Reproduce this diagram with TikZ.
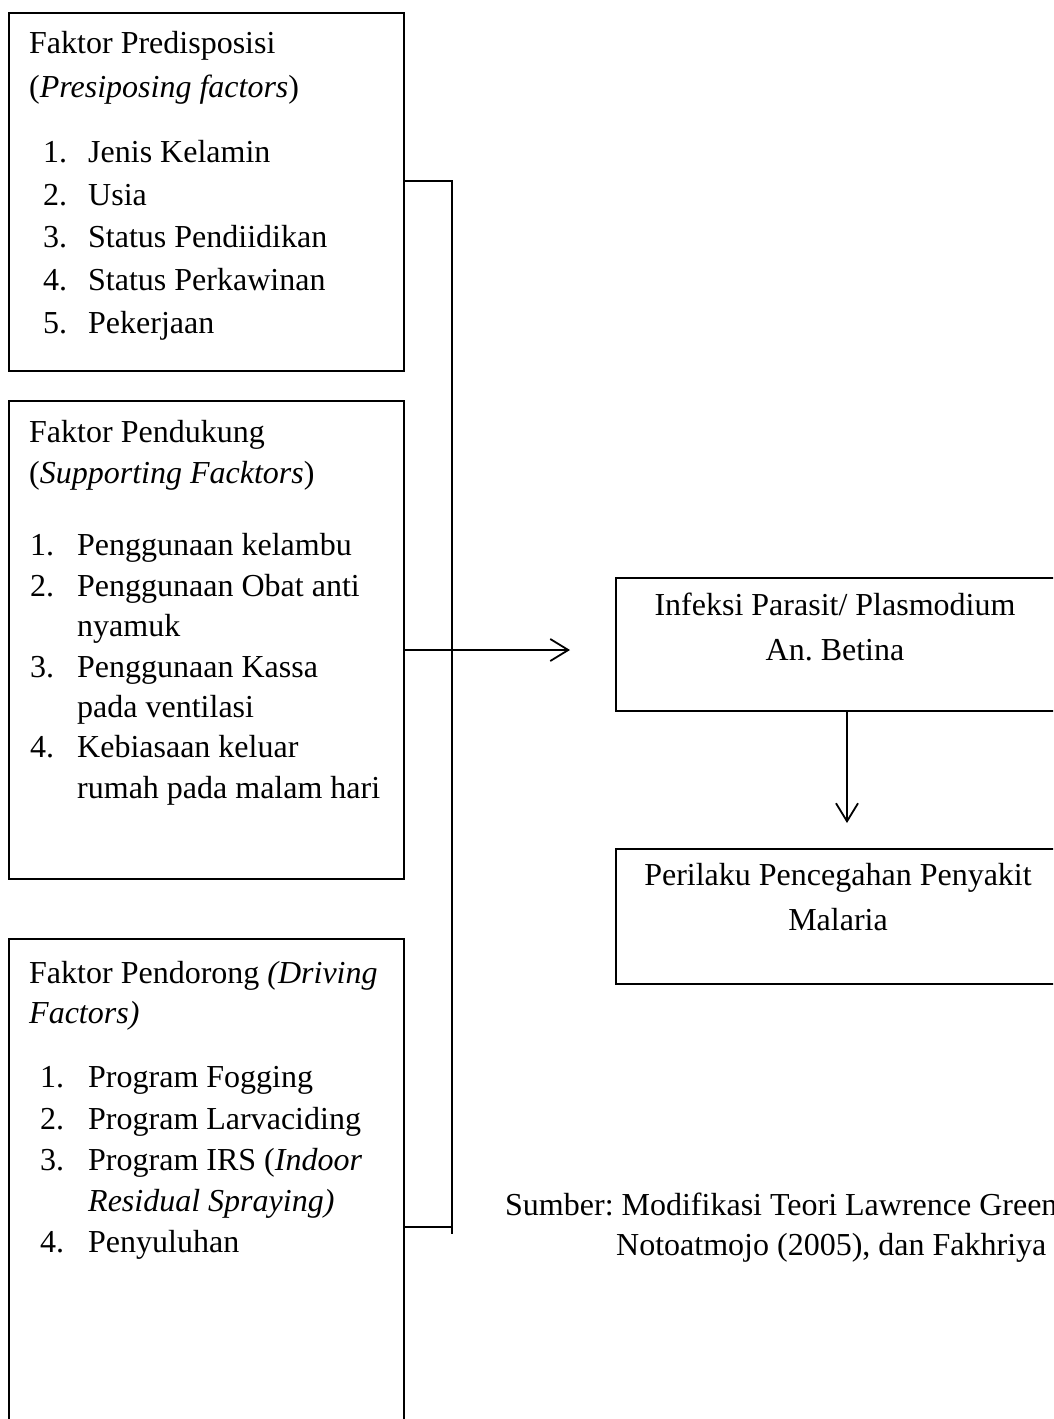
\documentclass[tikz,border=0pt]{standalone}
\usepackage{fontspec}
\setmainfont{Liberation Serif}
\usetikzlibrary{arrows.meta}
\frenchspacing

\begin{document}
\begin{tikzpicture}[x=1pt,y=-1pt,
  kotak/.style={draw, line width=1.6pt, minimum width=395pt, inner sep=0pt, anchor=north west},
  teks/.style={anchor=base west, inner sep=0pt, font=\fontsize{32}{40}\selectfont},
  tengah/.style={anchor=base, inner sep=0pt, font=\fontsize{32}{40}\selectfont},
  garis/.style={line width=1.8pt},
  panah/.style={line width=1.8pt, -{Straight Barb[length=18pt, width=22pt]}}]
\useasboundingbox (0,0) rectangle (1053,1419);
\clip (0,0) rectangle (1053,1419);

%Shape: Rectangle
\node [kotak, minimum height=358pt] (predis) at (8,12) {};
%Shape: Rectangle
\node [kotak, minimum height=478pt] (dukung) at (8,400) {};
%Shape: Rectangle
\node [kotak, minimum height=520pt] (dorong) at (8,938) {};
%Shape: Rectangle
\node [kotak, minimum width=460pt, minimum height=133pt] (infeksi) at (615,577) {};
%Shape: Rectangle
\node [kotak, minimum width=460pt, minimum height=135pt] (perilaku) at (615,848) {};

% Text Node
\node [teks] (pred-a) at (29,53) {Faktor Predisposisi};
\node [teks] (pred-b) at (29,97) {(\textit{Presiposing factors})};
\node [teks] (pred-n1) at (43,162) {1.};
\node [teks] (pred-t1) at (88,162) {Jenis Kelamin};
\node [teks] (pred-n2) at (43,205) {2.};
\node [teks] (pred-t2) at (88,205) {Usia};
\node [teks] (pred-n3) at (43,247) {3.};
\node [teks] (pred-t3) at (88,247) {Status Pendiidikan};
\node [teks] (pred-n4) at (43,290) {4.};
\node [teks] (pred-t4) at (88,290) {Status Perkawinan};
\node [teks] (pred-n5) at (43,333) {5.};
\node [teks] (pred-t5) at (88,333) {Pekerjaan};

% Text Node
\node [teks] (duk-a) at (29,442) {Faktor Pendukung};
\node [teks] (duk-b) at (29,483) {(\textit{Supporting Facktors})};
\node [teks] (duk-n1) at (30,555) {1.};
\node [teks] (duk-t1) at (77,555) {Penggunaan kelambu};
\node [teks] (duk-n2) at (30,596) {2.};
\node [teks] (duk-t2) at (77,596) {Penggunaan Obat anti};
\node [teks] (duk-t2b) at (77,636) {nyamuk};
\node [teks] (duk-n3) at (30,677) {3.};
\node [teks] (duk-t3) at (77,677) {Penggunaan Kassa};
\node [teks] (duk-t3b) at (77,717) {pada ventilasi};
\node [teks] (duk-n4) at (30,757) {4.};
\node [teks] (duk-t4) at (77,757) {Kebiasaan keluar};
\node [teks] (duk-t4b) at (77,798) {rumah pada malam hari};

% Text Node
\node [teks] (dor-a) at (29,983) {Faktor Pendorong \textit{(Driving}};
\node [teks] (dor-b) at (29,1023) {\textit{Factors)}};
\node [teks] (dor-n1) at (40,1087) {1.};
\node [teks] (dor-t1) at (88,1087) {Program Fogging};
\node [teks] (dor-n2) at (40,1129) {2.};
\node [teks] (dor-t2) at (88,1129) {Program Larvaciding};
\node [teks] (dor-n3) at (40,1170) {3.};
\node [teks] (dor-t3) at (88,1170) {Program IRS (\textit{Indoor}};
\node [teks] (dor-t3b) at (88,1211) {\textit{Residual Spraying)}};
\node [teks] (dor-n4) at (40,1252) {4.};
\node [teks] (dor-t4) at (88,1252) {Penyuluhan};

% Text Node
\node [tengah] (inf-a) at (835,615) {Infeksi Parasit/ Plasmodium};
\node [tengah] (inf-b) at (835,660) {An. Betina};
\node [tengah] (per-a) at (838,885) {Perilaku Pencegahan Penyakit};
\node [tengah] (per-b) at (838,930) {Malaria};

% Text Node
\node [teks] (sumber-a) at (505,1215) {Sumber: Modifikasi Teori Lawrence Green};
\node [teks] (sumber-b) at (616,1255) {Notoatmojo (2005), dan Fakhriya};

%Straight Lines
\coordinate (sambung) at (452,181);
\coordinate (ujung) at (452,1234);
\draw [garis] (predis.east |- sambung) -- (sambung) -- (ujung);
\draw [garis] (dorong.east |- 0,1227) -- (ujung |- 0,1227);
\draw [panah, shorten >=45pt] (dukung.east |- 0,650) -- (infeksi.west |- 0,650);
\draw [panah, shorten >=25pt] (infeksi.south -| 847,0) -- (perilaku.north -| 847,0);

\end{tikzpicture}
\end{document}
